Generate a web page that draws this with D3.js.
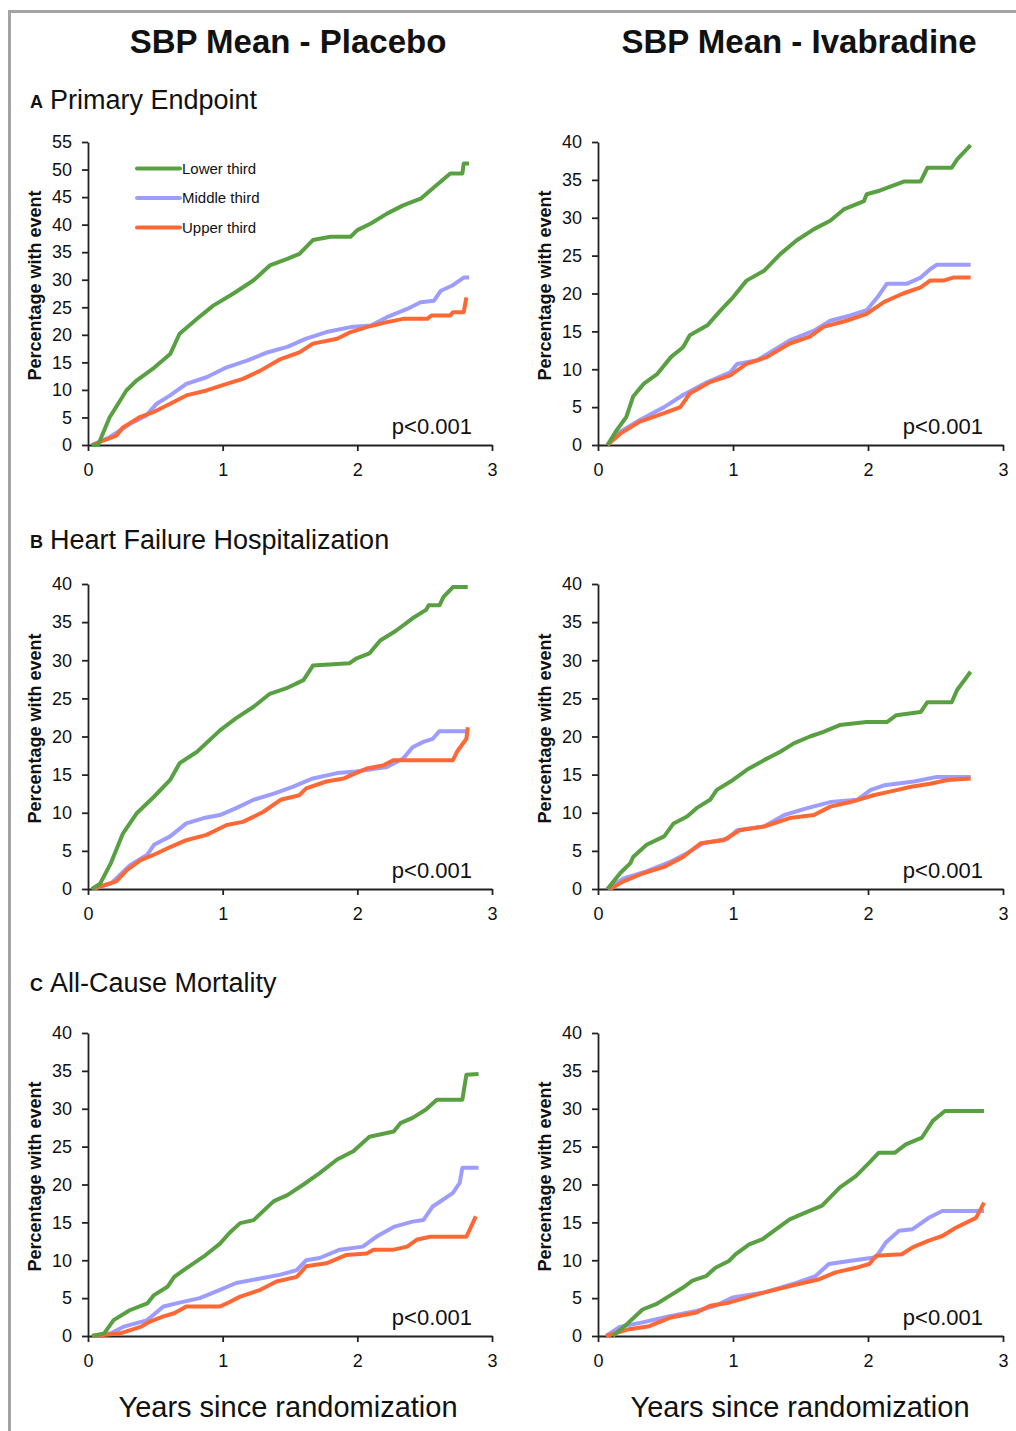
<!DOCTYPE html>
<html><head><meta charset="utf-8">
<script src="https://cdn.jsdelivr.net/npm/d3@7"></script>
<style>
body{margin:0;background:#fff}
svg{display:block}
text{font-family:Arial,"Liberation Sans",Helvetica,sans-serif;fill:#111}
</style>
</head><body><svg id="c" width="1016" height="1431"></svg>
<script>
// ---------- DATA ----------
const groups = ["Lower third", "Middle third", "Upper third"];
const columnTitles = ["SBP Mean - Placebo", "SBP Mean - Ivabradine"];
const rowLetters = ["A", "B", "C"];
const rowTitles = ["Primary Endpoint", "Heart Failure Hospitalization", "All-Cause Mortality"];
const xTickValues = [0, 1, 2, 3];
const yMaxPlacebo = [55, 40, 40];
const yMaxIvabradine = [40, 40, 40];
const pValues = ["p<0.001", "p<0.001", "p<0.001", "p<0.001", "p<0.001", "p<0.001"];
const xTitle = "Years since randomization";
const yTitle = "Percentage with event";

// [years, percent]
const placeboPrimaryLower = [[0.03,0],[0.075,0],[0.16,5.0],[0.285,9.9],[0.36,11.7],[0.48,13.8],[0.61,16.5],[0.68,20.2],[0.81,22.9],[0.93,25.3],[1.08,27.5],[1.23,29.9],[1.35,32.6],[1.48,33.8],[1.57,34.7],[1.67,37.2],[1.80,37.8],[1.95,37.8],[2.0,39.0],[2.1,40.2],[2.22,42.0],[2.34,43.5],[2.47,44.7],[2.57,46.8],[2.69,49.3],[2.78,49.3],[2.79,51.1],[2.83,51.1]];
const placeboPrimaryMiddle = [[0.03,0],[0.16,1.4],[0.31,3.8],[0.43,5.3],[0.51,7.5],[0.61,9.0],[0.73,11.1],[0.88,12.3],[1.03,14.1],[1.18,15.3],[1.33,16.8],[1.48,17.8],[1.62,19.3],[1.77,20.5],[1.95,21.4],[2.10,21.7],[2.22,23.2],[2.37,24.7],[2.47,25.9],[2.57,26.2],[2.62,28.0],[2.71,29.0],[2.79,30.4],[2.83,30.4]];
const placeboPrimaryUpper = [[0.03,0],[0.21,1.7],[0.26,3.2],[0.38,5.0],[0.48,5.9],[0.61,7.5],[0.73,9.0],[0.88,9.9],[1.03,11.1],[1.15,12.0],[1.28,13.5],[1.43,15.6],[1.57,16.8],[1.67,18.4],[1.85,19.3],[1.95,20.5],[2.07,21.4],[2.22,22.3],[2.34,22.9],[2.52,22.9],[2.55,23.5],[2.69,23.5],[2.71,24.1],[2.79,24.1],[2.81,26.8]];

const ivabPrimaryLower = [[0.07,0],[0.14,2.0],[0.21,3.7],[0.26,6.4],[0.34,8.1],[0.44,9.4],[0.54,11.6],[0.63,12.9],[0.68,14.5],[0.81,15.8],[0.91,17.8],[1.0,19.5],[1.10,21.7],[1.23,23.0],[1.35,25.2],[1.47,27.0],[1.60,28.5],[1.72,29.6],[1.82,31.1],[1.97,32.2],[1.99,33.1],[2.09,33.6],[2.27,34.8],[2.39,34.8],[2.44,36.6],[2.62,36.6],[2.66,37.7],[2.76,39.6]];
const ivabPrimaryMiddle = [[0.07,0],[0.165,1.75],[0.31,3.3],[0.49,5.0],[0.63,6.6],[0.81,8.3],[0.98,9.6],[1.03,10.7],[1.18,11.2],[1.28,12.3],[1.42,13.8],[1.60,15.1],[1.72,16.4],[1.87,17.1],[1.99,17.8],[2.07,19.5],[2.14,21.3],[2.29,21.3],[2.39,22.1],[2.46,23.2],[2.51,23.8],[2.76,23.8]];
const ivabPrimaryUpper = [[0.07,0],[0.165,1.5],[0.31,3.1],[0.49,4.2],[0.61,5.0],[0.68,6.8],[0.83,8.3],[0.98,9.2],[1.10,10.7],[1.25,11.6],[1.42,13.4],[1.57,14.3],[1.67,15.6],[1.84,16.4],[1.99,17.3],[2.12,18.9],[2.26,20.0],[2.39,20.8],[2.46,21.7],[2.56,21.7],[2.63,22.1],[2.76,22.1]];

const placeboHfLower = [[0.03,0],[0.09,0.7],[0.17,3.4],[0.26,7.3],[0.36,9.9],[0.49,12.1],[0.61,14.3],[0.68,16.5],[0.81,18.0],[0.98,20.8],[1.10,22.4],[1.23,23.9],[1.35,25.6],[1.47,26.3],[1.60,27.4],[1.67,29.3],[1.94,29.6],[1.99,30.2],[2.09,30.9],[2.17,32.6],[2.29,33.9],[2.41,35.5],[2.51,36.6],[2.53,37.2],[2.61,37.2],[2.64,38.3],[2.71,39.6],[2.82,39.6]];
const placeboHfMiddle = [[0.03,0],[0.17,0.7],[0.31,3.1],[0.44,4.5],[0.49,5.8],[0.61,6.9],[0.73,8.6],[0.86,9.3],[0.98,9.7],[1.10,10.6],[1.23,11.7],[1.38,12.5],[1.52,13.4],[1.67,14.5],[1.85,15.2],[1.99,15.4],[2.22,16.0],[2.34,17.1],[2.41,18.6],[2.49,19.3],[2.56,19.7],[2.61,20.7],[2.82,20.7]];
const placeboHfUpper = [[0.03,0],[0.21,1.0],[0.29,2.5],[0.39,3.8],[0.49,4.5],[0.61,5.5],[0.73,6.4],[0.88,7.1],[1.03,8.4],[1.15,8.8],[1.30,10.1],[1.43,11.7],[1.57,12.3],[1.62,13.2],[1.77,14.1],[1.90,14.5],[1.99,15.2],[2.07,15.8],[2.19,16.2],[2.27,16.9],[2.71,16.9],[2.74,18.0],[2.81,19.7],[2.82,21.2]];

const ivabHfLower = [[0.07,0],[0.165,2.1],[0.24,3.4],[0.26,4.2],[0.36,5.8],[0.49,6.9],[0.56,8.6],[0.66,9.5],[0.73,10.6],[0.83,11.7],[0.88,13.0],[1.0,14.3],[1.10,15.6],[1.23,16.9],[1.35,18.0],[1.45,19.1],[1.57,20.0],[1.67,20.6],[1.79,21.5],[1.99,21.9],[2.14,21.9],[2.21,22.8],[2.39,23.2],[2.44,24.5],[2.62,24.5],[2.66,26.1],[2.76,28.5]];
const ivabHfMiddle = [[0.07,0],[0.19,1.4],[0.36,2.3],[0.54,3.6],[0.66,4.7],[0.78,6.0],[0.96,6.6],[1.03,7.7],[1.23,8.2],[1.38,9.7],[1.55,10.6],[1.72,11.4],[1.92,11.7],[2.02,13.0],[2.12,13.6],[2.34,14.1],[2.51,14.7],[2.76,14.7]];
const ivabHfUpper = [[0.09,0],[0.19,1.0],[0.34,2.1],[0.49,2.9],[0.63,4.2],[0.76,6.0],[0.93,6.4],[1.05,7.7],[1.23,8.2],[1.42,9.3],[1.60,9.7],[1.72,10.8],[1.87,11.4],[2.04,12.3],[2.17,12.8],[2.32,13.4],[2.46,13.8],[2.59,14.3],[2.76,14.5]];

const placeboMortLower = [[0.03,0],[0.12,0.35],[0.19,2.1],[0.31,3.4],[0.44,4.3],[0.49,5.4],[0.59,6.5],[0.64,7.8],[0.71,8.7],[0.86,10.5],[0.98,12.2],[1.05,13.6],[1.13,14.9],[1.23,15.3],[1.38,17.8],[1.48,18.6],[1.60,20.0],[1.72,21.5],[1.85,23.3],[1.97,24.4],[2.09,26.3],[2.27,27.0],[2.32,28.1],[2.41,28.8],[2.51,29.9],[2.59,31.2],[2.78,31.2],[2.81,34.5],[2.90,34.6]];
const placeboMortMiddle = [[0.03,0],[0.17,0.35],[0.26,1.2],[0.44,2.1],[0.56,3.9],[0.68,4.4],[0.83,5.0],[0.98,6.1],[1.10,7.0],[1.28,7.6],[1.43,8.1],[1.55,8.7],[1.62,10.0],[1.72,10.3],[1.87,11.4],[2.04,11.8],[2.14,13.1],[2.27,14.4],[2.41,15.1],[2.49,15.3],[2.56,17.1],[2.71,18.9],[2.76,20.2],[2.78,22.2],[2.90,22.2]];
const placeboMortUpper = [[0.03,0],[0.24,0.35],[0.39,1.2],[0.46,1.9],[0.56,2.6],[0.64,3.0],[0.73,3.9],[0.98,3.9],[1.03,4.3],[1.13,5.2],[1.28,6.1],[1.40,7.2],[1.55,7.8],[1.62,9.2],[1.77,9.6],[1.92,10.7],[2.07,10.9],[2.12,11.4],[2.27,11.4],[2.37,11.8],[2.44,12.7],[2.54,13.1],[2.81,13.1],[2.88,15.8]];

const ivabMortLower = [[0.11,0],[0.21,1.5],[0.33,3.5],[0.43,4.2],[0.53,5.3],[0.63,6.4],[0.70,7.3],[0.80,7.9],[0.87,9.0],[0.97,9.9],[1.02,10.8],[1.12,12.1],[1.22,12.8],[1.32,14.1],[1.42,15.4],[1.51,16.1],[1.66,17.2],[1.79,19.6],[1.91,21.1],[2.01,22.9],[2.08,24.2],[2.20,24.2],[2.28,25.3],[2.40,26.2],[2.48,28.4],[2.57,29.7],[2.86,29.7]];
const ivabMortMiddle = [[0.06,0],[0.16,1.2],[0.33,1.8],[0.53,2.6],[0.73,3.3],[0.87,4.0],[1.0,5.1],[1.22,5.7],[1.47,7.0],[1.61,7.9],[1.71,9.5],[1.86,9.9],[2.06,10.4],[2.13,12.3],[2.23,13.9],[2.33,14.1],[2.45,15.6],[2.55,16.5],[2.86,16.5]];
const ivabMortUpper = [[0.06,0],[0.23,0.9],[0.38,1.3],[0.53,2.4],[0.73,3.1],[0.83,4.0],[0.97,4.4],[1.22,5.7],[1.47,6.8],[1.64,7.5],[1.76,8.4],[1.91,9.0],[2.01,9.5],[2.06,10.6],[2.25,10.8],[2.33,11.7],[2.45,12.6],[2.55,13.2],[2.65,14.3],[2.80,15.6],[2.86,17.6]];

// ---------- LAYOUT / STYLE ----------
const colors = ["#58a042", "#9d9dff", "#ff6835"];
const cols = [{x0: 88, x1: 492}, {x0: 598, x1: 1003}];
const rows = [{y0: 445, y1: 142, title: 109}, {y0: 889, y1: 584, title: 549}, {y0: 1336, y1: 1033, title: 992}];

const panels = [
  {r:0, c:0, ymax: yMaxPlacebo[0], data:[placeboPrimaryLower, placeboPrimaryMiddle, placeboPrimaryUpper], legend:true, p:pValues[0]},
  {r:0, c:1, ymax: yMaxIvabradine[0], data:[ivabPrimaryLower, ivabPrimaryMiddle, ivabPrimaryUpper], p:pValues[1]},
  {r:1, c:0, ymax: yMaxPlacebo[1], data:[placeboHfLower, placeboHfMiddle, placeboHfUpper], p:pValues[2]},
  {r:1, c:1, ymax: yMaxIvabradine[1], data:[ivabHfLower, ivabHfMiddle, ivabHfUpper], p:pValues[3]},
  {r:2, c:0, ymax: yMaxPlacebo[2], data:[placeboMortLower, placeboMortMiddle, placeboMortUpper], p:pValues[4]},
  {r:2, c:1, ymax: yMaxIvabradine[2], data:[ivabMortLower, ivabMortMiddle, ivabMortUpper], p:pValues[5]},
];

const svg = d3.select("#c");

// frame
svg.append("path").attr("d", "M9.5,1431 V11.5 H1016")
  .attr("fill", "none").attr("stroke", "#a3a3a3").attr("stroke-width", 3);

// column titles
[288, 799].forEach((cx, i) => {
  svg.append("text").attr("x", cx).attr("y", 53).attr("text-anchor", "middle")
    .attr("font-size", 33).attr("font-weight", "bold").text(columnTitles[i]);
  svg.append("text").attr("x", cx + (i ? 1 : 0)).attr("y", 1417).attr("text-anchor", "middle")
    .attr("font-size", 29).text(xTitle);
});

// row titles
rows.forEach((row, i) => {
  svg.append("text").attr("x", 30).attr("y", row.title - 1).attr("font-size", 18)
    .attr("font-weight", "bold").text(rowLetters[i]);
  svg.append("text").attr("x", 50).attr("y", row.title).attr("font-size", 27).text(rowTitles[i]);
});

panels.forEach(p => {
  const col = cols[p.c], row = rows[p.r];
  const x = d3.scaleLinear().domain([0, 3]).range([col.x0, col.x1]);
  const y = d3.scaleLinear().domain([0, p.ymax]).range([row.y0, row.y1]);
  const g = svg.append("g");

  const yAxis = g.append("g").attr("transform", `translate(${col.x0},0)`)
    .call(d3.axisLeft(y).tickValues(d3.range(0, p.ymax + 1, 5)).tickSize(6).tickPadding(10).tickSizeOuter(0));
  const xAxis = g.append("g").attr("transform", `translate(0,${row.y0})`)
    .call(d3.axisBottom(x).tickValues(xTickValues).tickSize(6).tickPadding(12).tickSizeOuter(0).tickFormat(d3.format("d")));
  [yAxis, xAxis].forEach(a => {
    a.selectAll("path,line").attr("stroke", "#222").attr("stroke-width", 1.8);
    a.selectAll("text").attr("font-size", 18).attr("fill", "#111")
      .style("font-family", 'Arial,"Liberation Sans",sans-serif');
  });

  // y title
  g.append("text").attr("transform", `translate(${col.x0 - 53},${(row.y0 + row.y1) / 2 - 8}) rotate(-90)`)
    .attr("text-anchor", "middle").attr("dy", "0.35em").attr("font-size", 18).attr("font-weight", "bold").text(yTitle);

  // p-value
  g.append("text").attr("x", col.x1 - 20).attr("y", row.y0 - 11).attr("text-anchor", "end")
    .attr("font-size", 22).text(p.p);

  const line = d3.line().x(d => x(d[0])).y(d => y(d[1])).curve(d3.curveLinear);
  // draw middle, upper, then lower so green is on top
  [1, 2, 0].forEach(k => {
    g.append("path").datum(p.data[k]).attr("d", line)
      .attr("fill", "none").attr("stroke", colors[k]).attr("stroke-width", 4)
      .attr("stroke-linejoin", "round").attr("stroke-linecap", "butt");
  });

  if (p.legend) {
    const ly = d3.scaleLinear().domain([0, 2]).range([168.5, 227.5]);
    groups.forEach((name, k) => {
      g.append("line").attr("x1", 137).attr("x2", 180).attr("y1", ly(k)).attr("y2", ly(k))
        .attr("stroke", colors[k]).attr("stroke-width", 4).attr("stroke-linecap", "round");
      g.append("text").attr("x", 182).attr("y", ly(k)).attr("dy", "0.35em")
        .attr("font-size", 15).text(name);
    });
  }
});
</script>
</body></html>
